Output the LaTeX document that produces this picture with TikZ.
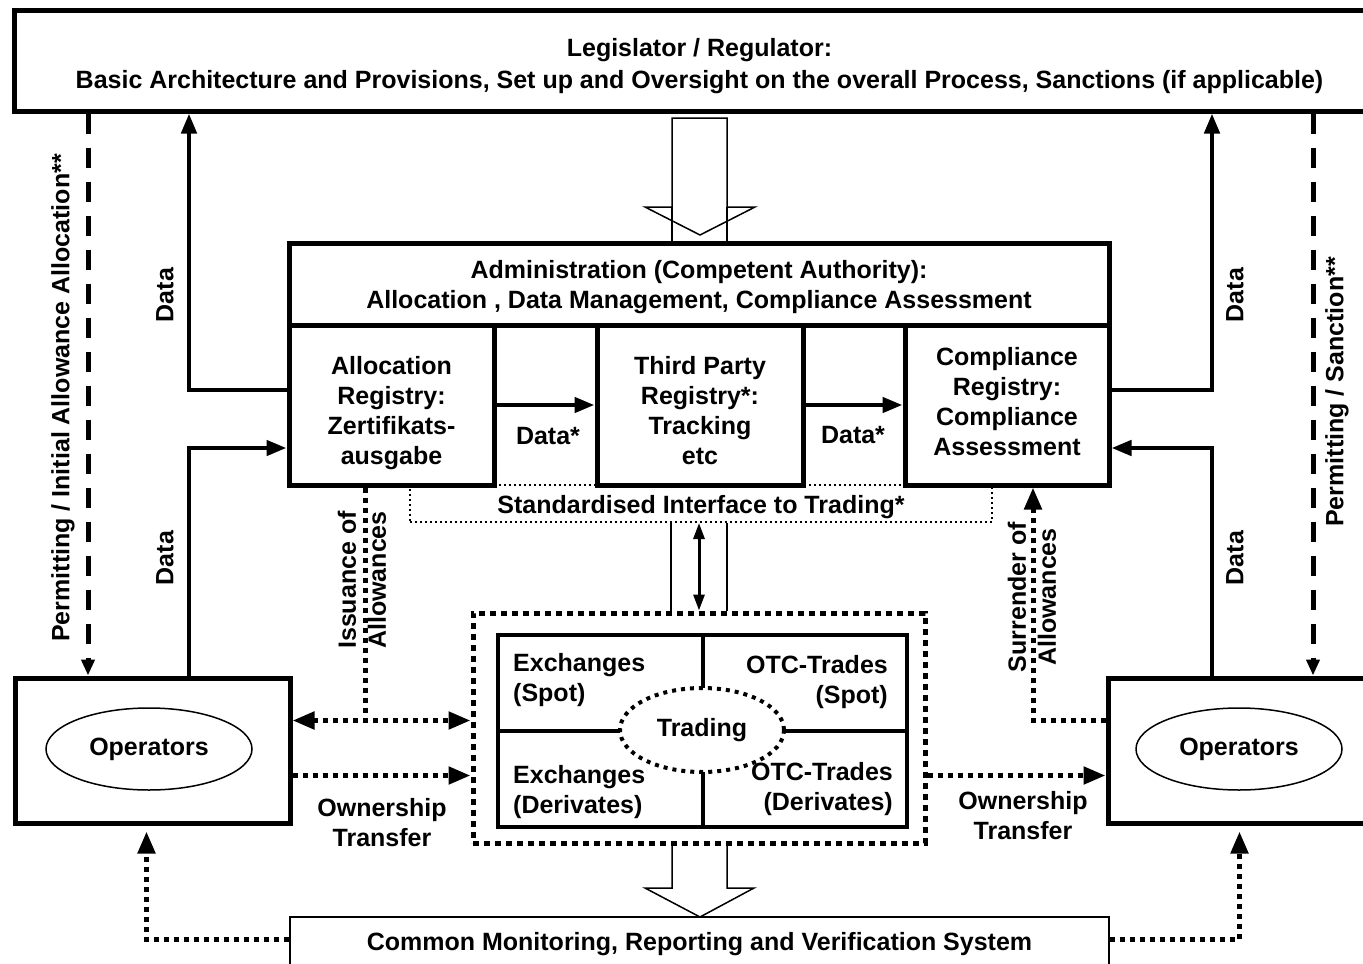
\documentclass[tikz,border=0pt]{standalone}
\usepackage{fontspec}
\setmainfont{Liberation Sans}
\usetikzlibrary{arrows.meta,shapes.geometric,calc}
\begin{document}
\begin{tikzpicture}[x=1pt,y=-1pt,
  every node/.style={font=\fontsize{25}{30}\selectfont\bfseries, inner sep=0pt},
  box/.style={draw, line width=5pt, align=center},
  thinbox/.style={draw, line width=2pt, align=center},
  ifacebox/.style={draw, line width=2pt, dash pattern=on 2pt off 3pt},
  outerdot/.style={draw, line width=5pt, dash pattern=on 6pt off 5pt},
  opell/.style={draw, ellipse, line width=1.5pt},
  tradell/.style={draw, ellipse, line width=4pt, dash pattern=on 4pt off 5pt, fill=white},
  solidarrow/.style={line width=4.5pt, -{Triangle[length=20pt,width=15pt]}},
  dashedarrow/.style={line width=5pt, dash pattern=on 20pt off 14pt, -{Triangle[length=16pt,width=13pt]}},
  dotline/.style={line width=5pt, dash pattern=on 5pt off 5pt},
  dotarrow/.style={dotline, -{Triangle[length=22pt,width=17pt]}},
  dotdouble/.style={dotline, {Triangle[length=22pt,width=17pt]}-{Triangle[length=22pt,width=17pt]}},
  blockarrow/.style={draw, line width=1.5pt, fill=white, line join=miter},
  channel/.style={line width=1.5pt},
  rot/.style={rotate=90, align=center},
  txt/.style={align=center},
]
\useasboundingbox (0,0) rectangle (1363,964);

% top box
\node[box, minimum width=1371pt, minimum height=101pt] (top) at (699.5,60.5) {};
\node[txt, font=\fontsize{25}{32}\selectfont\bfseries] (toptext) at (699.5,66.5)
  {Legislator / Regulator:\\Basic Architecture and Provisions, Set up and Oversight on the overall Process, Sanctions (if applicable)};

% interface (drawn before registries)
\node[ifacebox, minimum width=582pt, minimum height=37pt] (iface) at (701,503.5) {};
\node (ifacetext) at (701,507.5) {Standardised Interface to Trading*};

% administration
\node[box, minimum width=820pt, minimum height=82pt] (admin) at (699,284) {};
\node[txt] (admintext) at (699,287) {Administration (Competent Authority):\\Allocation , Data Management, Compliance Assessment};
\node[box, minimum width=205pt, minimum height=160pt] (alloc) at (391.5,405) {};
\node[txt] (alloctext) at (391.5,413) {Allocation\\Registry:\\Zertifikats-\\ausgabe};
\node[box, minimum width=206pt, minimum height=160pt] (third) at (700,405) {};
\node[txt] (thirdtext) at (700,411) {Third Party\\Registry*:\\Tracking\\etc};
\node[box, minimum width=204pt, minimum height=160pt] (comp) at (1007,405) {};
\node[txt] (comptext) at (1007,402) {Compliance\\Registry:\\Compliance\\Assessment};

% top block arrow
\draw[blockarrow] (672,118) -- (727,118) -- (727,207) -- (755,207) -- (700,235) -- (645,207) -- (672,207) -- cycle;
\draw[channel] (672,207) -- (672,243) (727,207) -- (727,243);

% trading
\node[outerdot, minimum width=452pt, minimum height=230pt] (outer) at (699,728) {};
\node[box, line width=4pt, minimum width=409pt, minimum height=192pt] (inner) at (702.5,731) {};
\draw[line width=4pt] (inner.north) -- (inner.south) (inner.west) -- (inner.east);
\node[tradell, minimum width=164pt, minimum height=84pt] (trading) at (702,730) {Trading};
\node[anchor=west, align=left] (exs) at (513,680) {Exchanges\\(Spot)};
\node[anchor=east, align=right] (otcs) at (888,682) {OTC-Trades\\(Spot)};
\node[anchor=west, align=left] (exd) at (513,792) {Exchanges\\(Derivates)};
\node[anchor=east, align=right] (otcd) at (893,789) {OTC-Trades\\(Derivates)};

% channel between interface and trading
\coordinate (chL) at (671,0);
\coordinate (chR) at (727,0);
\coordinate (chM) at (699,0);
\draw[channel] (chL |- iface.south) -- (chL |- outer.north);
\draw[channel] (chR |- iface.south) -- (chR |- outer.north);
\draw[line width=3pt, {Triangle[length=16pt,width=11pt]}-{Triangle[length=16pt,width=11pt]}] (chM |- iface.south) -- (chM |- outer.north);

% operators
\node[box, minimum width=275pt, minimum height=145pt] (opL) at (152.5,750.5) {};
\node[opell, minimum width=206pt, minimum height=82pt] (elL) at (149,749) {Operators};
\node[box, minimum width=275pt, minimum height=145pt] (opR) at (1245.5,750.5) {};
\node[opell, minimum width=206pt, minimum height=82pt] (elR) at (1239,749) {Operators};

% monitoring
\node[thinbox, minimum width=819pt, minimum height=80pt] (mon) at (699.5,957) {};
\node (montext) at (699.5,944) {Common Monitoring, Reporting and Verification System};

% bottom block arrow
\draw[blockarrow] (672,846) -- (672,888) -- (645,888) -- (700,917) -- (754,888) -- (727,888) -- (727,846);

% coordinates for vertical connectors
\coordinate (xL1) at (88,0);
\coordinate (xL2) at (189,0);
\coordinate (xR1) at (1212,0);
\coordinate (xR2) at (1313,0);
\coordinate (xIss) at (365,0);
\coordinate (xSur) at (1033,0);

\draw[dashedarrow] (xL1 |- top.south) -- (xL1 |- opL.north);
\draw[dashedarrow] (xR2 |- top.south) -- (xR2 |- opR.north);
\draw[solidarrow] ($(alloc.west)+(0,-15)$) -| (xL2 |- top.south);
\draw[solidarrow] (xL2 |- opL.north) |- ($(alloc.west)+(0,43)$);
\draw[solidarrow] ($(comp.east)+(0,-15)$) -| (xR1 |- top.south);
\draw[solidarrow] (xR1 |- opR.north) |- ($(comp.east)+(0,43)$);

\draw[solidarrow] (alloc.east) -- (third.west);
\draw[solidarrow] (third.east) -- (comp.west);
\node (d1) at (548,436) {Data*};
\node (d2) at (853,435) {Data*};

% dotted connectors
\coordinate (da) at ($(opL.east)+(0,-30)$);
\draw[dotdouble] (da) -- (da -| outer.west);
\draw[dotline] (xIss |- alloc.south) -- (xIss |- da);
\coordinate (ow) at ($(opL.east)+(0,25)$);
\draw[dotarrow] (ow) -- (ow -| outer.west);
\draw[dotarrow] (outer.east |- ow) -- (opR.west |- ow);
\draw[dotarrow] ($(opR.west)+(0,-30)$) -| (xSur |- comp.south);
\draw[dotarrow, shorten >=6pt] ($(mon.north west)+(0,23)$) -| ($(opL.south)+(-6,0)$);
\draw[dotarrow, shorten >=6pt] ($(mon.north east)+(0,23)$) -| ($(opR.south)+(-6,0)$);

% labels
\node[rot] (lblPL) at (63,398) {Permitting / Initial Allowance Allocation**};
\node[rot] (lblD1) at (165,295) {Data};
\node[rot] (lblD2) at (165,558) {Data};
\node[rot] (lblD3) at (1235,295) {Data};
\node[rot] (lblD4) at (1235,558) {Data};
\node[rot] (lblPR) at (1337,392) {Permitting / Sanction**};
\node[rot] (lblIss) at (362,580) {Issuance of\\Allowances};
\node[rot] (lblSur) at (1032,597) {Surrender of\\Allowances};
\node[align=center] (own1) at (382,823) {Ownership\\Transfer};
\node[align=center] (own2) at (1023,816) {Ownership\\Transfer};
\end{tikzpicture}
\end{document}
